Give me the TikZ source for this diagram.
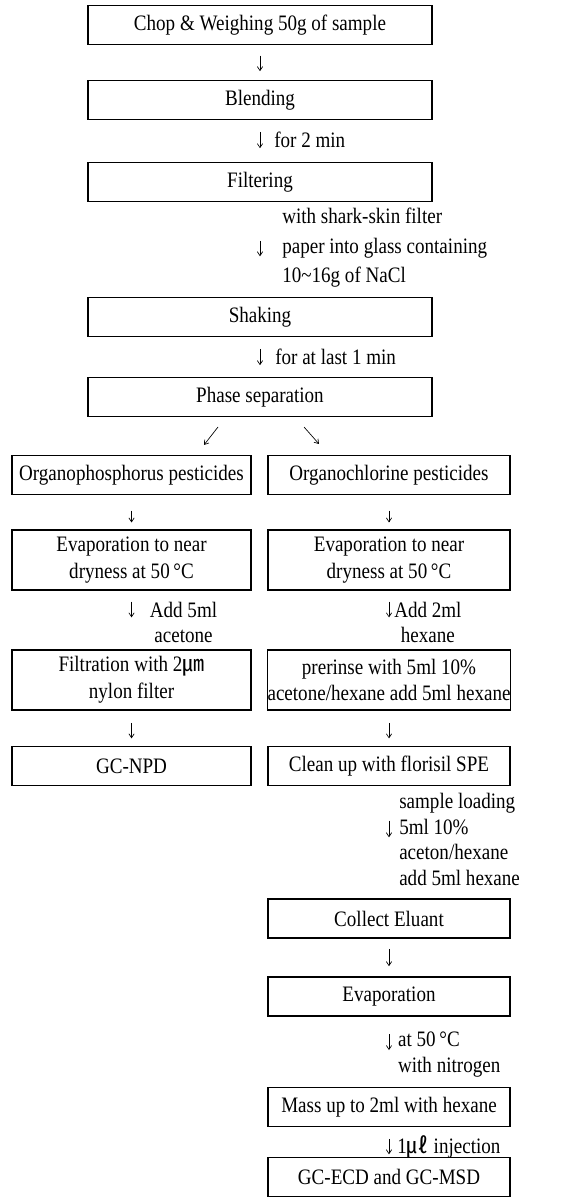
\documentclass[tikz,border=0pt]{standalone}
\usepackage{fontspec}
\setmainfont{Liberation Serif}[FakeStretch=0.865]
\newfontfamily\cjk{Noto Sans CJK KR}
\usepackage{tikz}
\usetikzlibrary{arrows.meta}
\tikzset{box/.style={draw, line width=1pt, minimum width=9.053cm, minimum height=1.02cm, inner sep=0pt, align=center, font=\fontsize{16.5}{20}\selectfont}}
\tikzset{colL/.style={box, minimum width=6.289cm}, colR/.style={box, minimum width=6.368cm}, tall/.style={minimum height=1.58cm}}
\tikzset{note/.style={inner sep=0pt, font=\fontsize{16.5}{19}\selectfont}}
\tikzset{flow/.style={line width=0.5pt, -{Straight Barb[length=3pt,width=4pt]}}}
\newcommand{\degc}{\textdegree C}

\begin{document}
\begin{tikzpicture}
    \useasboundingbox (0,0) rectangle (15cm, 31.605cm);

    % common steps
    \node (chop) at (6.842cm, 30.947cm) [box] {Chop \& Weighing 50g of sample};
    \node (blend) at (6.842cm, 28.974cm) [box] {Blending};
    \node (filt) at (6.842cm, 26.816cm) [box] {Filtering};
    \node (shake) at (6.842cm, 23.263cm) [box] {Shaking};
    \node (phase) at (6.842cm, 21.158cm) [box] {Phase separation};

    \node (t2min) at (7.211cm, 27.921cm) [note, anchor=west] {for 2 min};
    \node (tpaper) at (7.421cm, 25.079cm) [note, anchor=west, align=left] {with shark-skin filter\\[3pt] paper into glass containing\\[3pt] 10\textasciitilde16g of NaCl};
    \node (t1min) at (7.237cm, 22.211cm) [note, anchor=west] {for at last 1 min};

    \draw (chop) edge [flow, shorten <=0.28cm, shorten >=0.23cm] (blend);
    \draw (blend) edge [flow, shorten <=0.31cm, shorten >=0.36cm] (filt);
    \draw (filt) edge [flow, shorten <=1.02cm, shorten >=1.07cm] (shake);
    \draw (shake) edge [flow, shorten <=0.31cm, shorten >=0.31cm] (phase);

    \coordinate (dl1) at (5.737cm, 20.368cm);
    \coordinate (dl2) at (5.368cm, 19.895cm);
    \coordinate (dr1) at (8.0cm, 20.368cm);
    \coordinate (dr2) at (8.395cm, 19.921cm);
    \draw (dl1) edge [flow] (dl2);
    \draw (dr1) edge [flow] (dr2);

    % organophosphorus
    \node (orgP) at (3.461cm, 19.105cm) [colL] {Organophosphorus pesticides};
    \node (evapL) at (3.461cm, 16.868cm) [colL, tall] {Evaporation to near\\dryness at 50\,\degc};
    \node (filtL) at (3.461cm, 13.711cm) [colL, tall] {Filtration with 2{\cjk ㎛}\\nylon filter};
    \node (npd) at (3.461cm, 11.447cm) [colL] {GC-NPD};

    \node (tacet) at (4.83cm, 15.224cm) [note, align=center] {Add 5ml\\acetone};

    \draw (orgP) edge [flow, shorten <=0.41cm, shorten >=0.18cm] (evapL);
    \draw (evapL) edge [flow, shorten <=0.29cm, shorten >=0.84cm] (filtL);
    \draw (filtL) edge [flow, shorten <=0.32cm, shorten >=0.2cm] (npd);

    % organochlorine
    \node (orgC) at (10.237cm, 19.105cm) [colR] {Organochlorine pesticides};
    \node (evapR) at (10.237cm, 16.868cm) [colR, tall] {Evaporation to near\\dryness at 50\,\degc};
    \node (rinse) at (10.237cm, 13.711cm) [colR, tall] {prerinse with 5ml 10\%\\acetone/hexane add 5ml hexane};
    \node (clean) at (10.237cm, 11.447cm) [colR] {Clean up with florisil SPE};
    \node (elu) at (10.237cm, 7.434cm) [colR] {Collect Eluant};
    \node (evap) at (10.237cm, 5.382cm) [colR] {Evaporation};
    \node (mass) at (10.237cm, 2.474cm) [colR] {Mass up to 2ml with hexane};
    \node (ecd) at (10.237cm, 0.632cm) [colR] {GC-ECD and GC-MSD};

    \node (thex) at (11.26cm, 15.224cm) [note, align=center] {Add 2ml\\hexane};
    \node (tload) at (10.5cm, 9.513cm) [note, anchor=west, align=left] {sample loading\\5ml 10\%\\aceton/hexane\\add 5ml hexane};
    \node (tnit) at (10.47cm, 3.855cm) [note, anchor=west, align=left] {at 50\,\degc\\with nitrogen};
    \node (tinj) at (10.45cm, 1.421cm) [note, anchor=west] {1{\cjk ㎕} injection};

    \draw (orgC) edge [flow, shorten <=0.41cm, shorten >=0.18cm] (evapR);
    \draw (evapR) edge [flow, shorten <=0.29cm, shorten >=0.84cm] (rinse);
    \draw (rinse) edge [flow, shorten <=0.32cm, shorten >=0.2cm] (clean);
    \draw (clean) edge [flow, shorten <=0.91cm, shorten >=1.61cm] (elu);
    \draw (elu) edge [flow, shorten <=0.27cm, shorten >=0.27cm] (evap);
    \draw (evap) edge [flow, shorten <=0.46cm, shorten >=0.97cm] (mass);
    \draw (mass) edge [flow, shorten <=0.31cm, shorten >=0.07cm] (ecd);
\end{tikzpicture}
\end{document}
